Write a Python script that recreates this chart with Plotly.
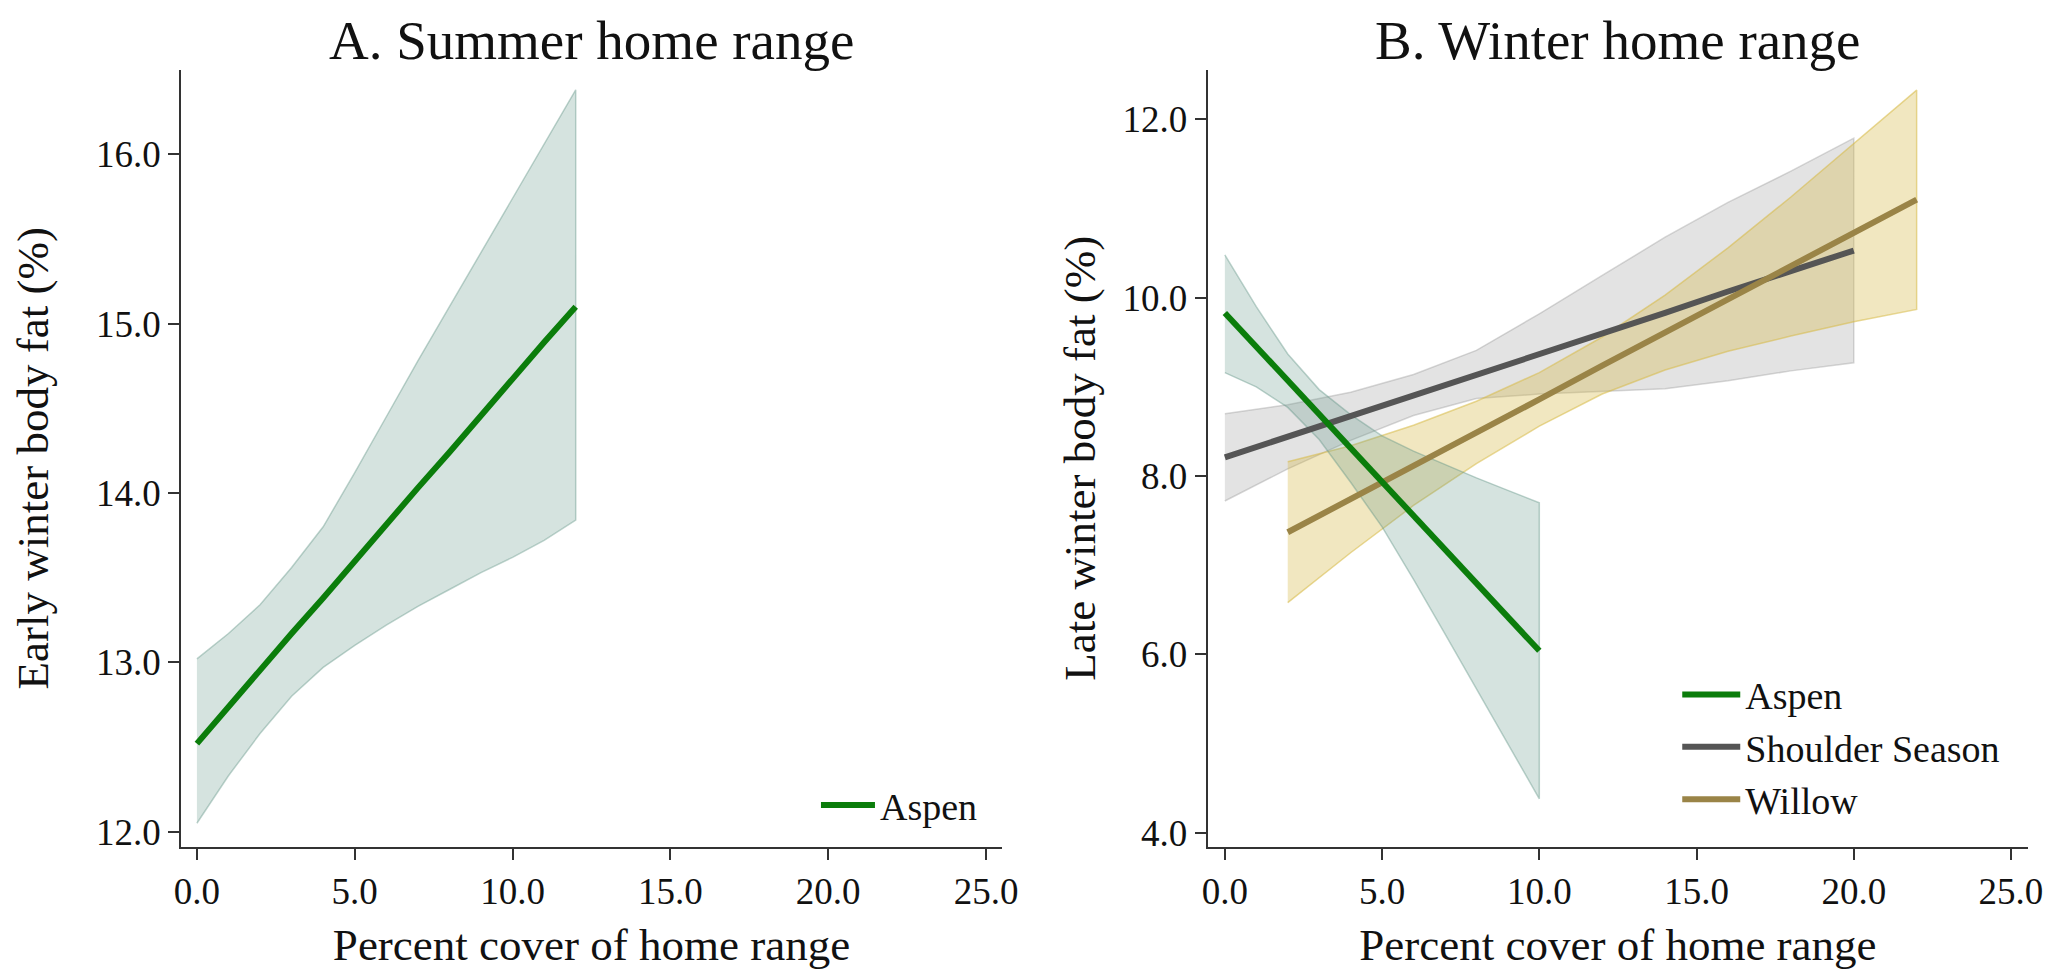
import plotly.graph_objects as go

# ---------------- data ----------------
# Panel A: Summer home range (Aspen)
a_x = [0, 1, 2, 3, 4, 5, 6, 7, 8, 9, 10, 11, 12]
a_fit = [12.52, 12.74, 12.95, 13.17, 13.38, 13.60, 13.81, 14.03, 14.24, 14.46, 14.67, 14.89, 15.10]
a_upper = [13.02, 13.17, 13.34, 13.56, 13.80, 14.12, 14.45, 14.78, 15.10, 15.42, 15.74, 16.06, 16.38]
a_lower = [12.05, 12.33, 12.58, 12.80, 12.97, 13.10, 13.22, 13.33, 13.43, 13.53, 13.62, 13.72, 13.84]

# Panel B: Winter home range
b_aspen_x = [0, 1, 2, 3, 4, 5, 6, 7, 8, 9, 10]
b_aspen_fit = [9.83, 9.45, 9.07, 8.69, 8.31, 7.94, 7.56, 7.18, 6.80, 6.42, 6.04]
b_aspen_upper = [10.48, 9.90, 9.37, 8.97, 8.69, 8.45, 8.28, 8.13, 7.98, 7.84, 7.70]
b_aspen_lower = [9.16, 9.00, 8.77, 8.41, 7.93, 7.43, 6.84, 6.23, 5.62, 5.00, 4.38]

b_shoulder_x = [0, 2, 4, 6, 8, 10, 12, 14, 16, 18, 20]
b_shoulder_fit = [8.21, 8.44, 8.67, 8.91, 9.14, 9.37, 9.60, 9.83, 10.07, 10.30, 10.53]
b_shoulder_upper = [8.70, 8.80, 8.94, 9.14, 9.41, 9.82, 10.25, 10.68, 11.07, 11.42, 11.79]
b_shoulder_lower = [7.72, 8.08, 8.40, 8.68, 8.87, 8.92, 8.95, 8.98, 9.07, 9.18, 9.27]

b_willow_x = [2, 4, 6, 8, 10, 12, 14, 16, 18, 20, 22]
b_willow_fit = [7.37, 7.74, 8.12, 8.49, 8.86, 9.24, 9.61, 9.98, 10.35, 10.73, 11.10]
b_willow_upper = [8.16, 8.34, 8.57, 8.84, 9.16, 9.56, 10.03, 10.56, 11.13, 11.73, 12.33]
b_willow_lower = [6.58, 7.14, 7.67, 8.14, 8.56, 8.92, 9.19, 9.40, 9.57, 9.73, 9.87]

x_ticks = [0, 5, 10, 15, 20, 25]
x_ticklabels = ["0.0", "5.0", "10.0", "15.0", "20.0", "25.0"]
a_yticks = [12, 13, 14, 15, 16]
a_yticklabels = ["12.0", "13.0", "14.0", "15.0", "16.0"]
b_yticks = [4, 6, 8, 10, 12]
b_yticklabels = ["4.0", "6.0", "8.0", "10.0", "12.0"]

# ---------------- style ----------------
FONT = "Liberation Serif"
W, H = 2062, 973
GREEN = "#0b7d0b"
GRAY = "#555555"
WILLOW = "#9a8447"
AX = "#333333"

fig = go.Figure()


def band(x, lo, hi, fill, edge, xa, ya):
    fig.add_trace(go.Scatter(
        x=list(x) + list(x)[::-1], y=list(hi) + list(lo)[::-1],
        fill="toself", fillcolor=fill, mode="lines",
        line=dict(color=edge, width=1.5), hoverinfo="skip",
        showlegend=False, xaxis=xa, yaxis=ya))


# Panel A
band(a_x, a_lower, a_upper, "rgba(100,150,135,0.27)", "rgba(100,150,135,0.42)", "x", "y")
fig.add_trace(go.Scatter(x=a_x, y=a_fit, mode="lines", name="Aspen",
                         line=dict(color=GREEN, width=6), xaxis="x", yaxis="y",
                         legend="legend"))

# Panel B bands
band(b_shoulder_x, b_shoulder_lower, b_shoulder_upper, "rgba(140,140,140,0.24)", "rgba(140,140,140,0.34)", "x2", "y2")
band(b_willow_x, b_willow_lower, b_willow_upper, "rgba(215,185,70,0.34)", "rgba(215,185,70,0.55)", "x2", "y2")
band(b_aspen_x, b_aspen_lower, b_aspen_upper, "rgba(100,150,135,0.27)", "rgba(100,150,135,0.42)", "x2", "y2")

fig.add_trace(go.Scatter(x=b_shoulder_x, y=b_shoulder_fit, mode="lines", name="Shoulder Season",
                         line=dict(color=GRAY, width=6), xaxis="x2", yaxis="y2",
                         legend="legend2", legendrank=2))
fig.add_trace(go.Scatter(x=b_willow_x, y=b_willow_fit, mode="lines", name="Willow",
                         line=dict(color=WILLOW, width=6), xaxis="x2", yaxis="y2",
                         legend="legend2", legendrank=3))
fig.add_trace(go.Scatter(x=b_aspen_x, y=b_aspen_fit, mode="lines", name="Aspen",
                         line=dict(color=GREEN, width=6), xaxis="x2", yaxis="y2",
                         legend="legend2", legendrank=1))

ydom = [1 - 845 / H, 1 - 62 / H]
common_ax = dict(showline=True, linecolor=AX, linewidth=2, ticks="outside", ticklen=11,
                 tickwidth=2, tickcolor=AX, showgrid=False, zeroline=False,
                 tickfont=dict(family=FONT, size=37, color="#111"))
TF = dict(family=FONT, size=45, color="#111")
LF = dict(family=FONT, size=38, color="#111")

fig.update_layout(
    width=W, height=H,
    margin=dict(l=0, r=0, t=0, b=0),
    paper_bgcolor="white", plot_bgcolor="white",
    font=dict(family=FONT, color="#111"),
    xaxis=dict(domain=[168 / W, 998 / W], range=[-0.5, 25.5], anchor="y",
               tickvals=x_ticks, ticktext=x_ticklabels,
               title=dict(text="Percent cover of home range", font=TF, standoff=17),
               **common_ax),
    yaxis=dict(domain=ydom, range=[11.91, 16.5], anchor="x",
               tickvals=a_yticks, ticktext=a_yticklabels,
               title=dict(text="Early winter body fat (%)", font=TF, standoff=36),
               **common_ax),
    xaxis2=dict(domain=[1206 / W, 2036 / W], range=[-0.55, 25.55], anchor="y2",
                tickvals=x_ticks, ticktext=x_ticklabels,
                title=dict(text="Percent cover of home range", font=TF, standoff=17),
                **common_ax),
    yaxis2=dict(domain=ydom, range=[3.84, 12.56], anchor="x2",
                tickvals=b_yticks, ticktext=b_yticklabels,
                title=dict(text="Late winter body fat (%)", font=TF, standoff=13),
                **common_ax),
    legend=dict(x=810 / W, y=1 - 803 / H, xanchor="left", yanchor="middle", itemwidth=54,
                bgcolor="rgba(0,0,0,0)", font=LF),
    legend2=dict(x=1681 / W, y=1 - 660 / H, xanchor="left", yanchor="top", itemwidth=58,
                 bgcolor="rgba(0,0,0,0)", font=LF, traceorder="normal"),
    annotations=[
        dict(text="A. Summer home range", x=(168 + 998) / 2 / W, y=1, xref="paper", yref="paper",
             xanchor="center", yanchor="top", showarrow=False, font=dict(family=FONT, size=55, color="#111")),
        dict(text="B. Winter home range", x=(1206 + 2036) / 2 / W, y=1, xref="paper", yref="paper",
             xanchor="center", yanchor="top", showarrow=False, font=dict(family=FONT, size=55, color="#111")),
    ],
)

fig.write_html("out.html")
